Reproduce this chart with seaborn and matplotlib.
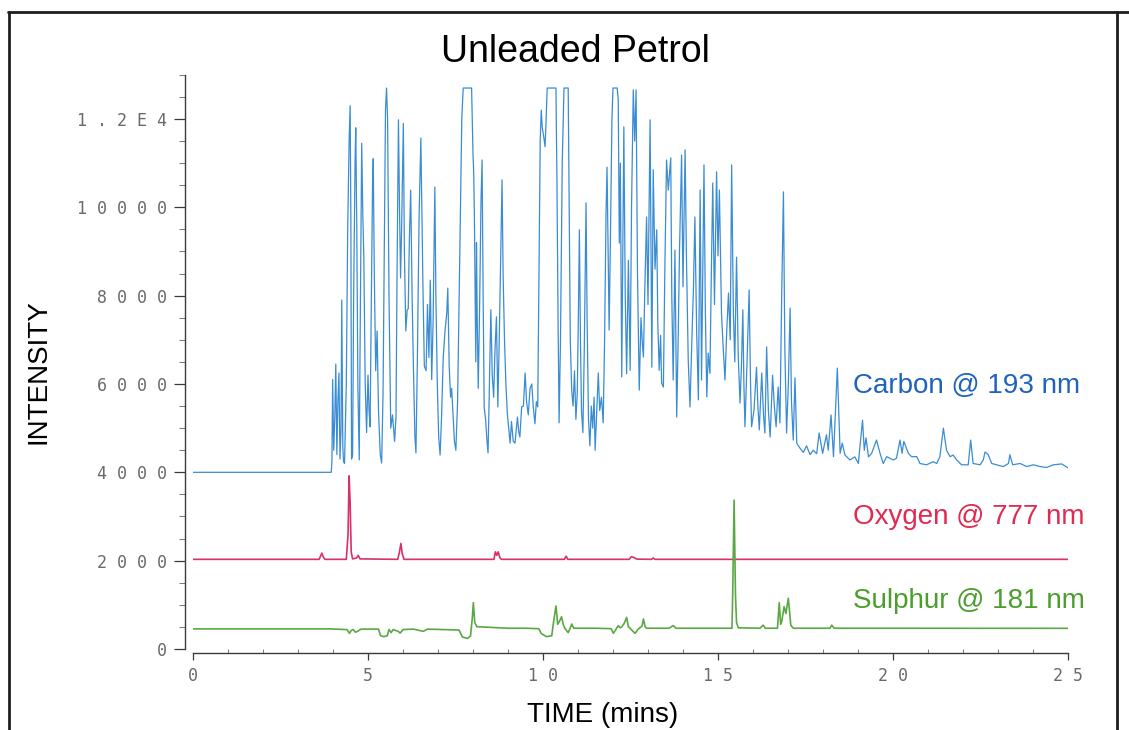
import matplotlib
matplotlib.use("Agg")
import matplotlib.pyplot as plt
import pandas as pd
import seaborn as sns
from matplotlib.lines import Line2D
from matplotlib.ticker import MultipleLocator, FuncFormatter

sns.set_theme(style="white")
plt.rcParams["font.family"] = ["Liberation Sans", "DejaVu Sans"]

# ---- Carbon channel (193 nm): retention time in minutes, emission intensity ----
carbon_time = [
    0.00, 3.95, 3.97, 3.99, 4.02, 4.05, 4.08, 4.11, 4.14, 4.17,
    4.20, 4.23, 4.25, 4.28, 4.30, 4.33, 4.38, 4.42, 4.46, 4.49,
    4.51, 4.53, 4.56, 4.59, 4.63, 4.65, 4.68, 4.71, 4.75, 4.78,
    4.82, 4.85, 4.88, 4.92, 4.96, 5.00, 5.03, 5.06, 5.09, 5.13,
    5.15, 5.18, 5.22, 5.26, 5.30, 5.35, 5.39, 5.43, 5.47, 5.50,
    5.53, 5.56, 5.60, 5.65, 5.70, 5.76, 5.80, 5.83, 5.87, 5.90,
    5.93, 5.96, 6.01, 6.04, 6.08, 6.12, 6.15, 6.18, 6.22, 6.26,
    6.30, 6.34, 6.37, 6.41, 6.46, 6.51, 6.54, 6.57, 6.61, 6.66,
    6.70, 6.74, 6.78, 6.82, 6.86, 6.91, 6.94, 6.98, 7.02, 7.06,
    7.10, 7.15, 7.20, 7.25, 7.28, 7.32, 7.36, 7.39, 7.43, 7.47,
    7.51, 7.56, 7.62, 7.68, 7.72, 7.96, 8.00, 8.02, 8.04, 8.06,
    8.08, 8.10, 8.12, 8.15, 8.19, 8.23, 8.26, 8.29, 8.32, 8.36,
    8.40, 8.43, 8.46, 8.51, 8.55, 8.59, 8.63, 8.67, 8.71, 8.75,
    8.80, 8.83, 8.86, 8.90, 8.94, 8.98, 9.02, 9.06, 9.10, 9.15,
    9.20, 9.24, 9.27, 9.31, 9.34, 9.39, 9.44, 9.49, 9.53, 9.58,
    9.63, 9.68, 9.72, 9.77, 9.81, 9.85, 9.88, 9.92, 9.95, 9.98,
    10.02, 10.06, 10.09, 10.12, 10.37, 10.40, 10.43, 10.46, 10.50, 10.55,
    10.60, 10.72, 10.75, 10.78, 10.82, 10.86, 10.90, 10.94, 10.98, 11.01,
    11.04, 11.07, 11.10, 11.14, 11.18, 11.23, 11.26, 11.30, 11.34, 11.38,
    11.42, 11.46, 11.49, 11.53, 11.58, 11.62, 11.67, 11.72, 11.76, 11.80,
    11.83, 11.86, 11.89, 11.93, 11.97, 12.00, 12.12, 12.15, 12.18, 12.21,
    12.25, 12.28, 12.31, 12.35, 12.39, 12.44, 12.49, 12.53, 12.58, 12.62,
    12.66, 12.70, 12.75, 12.80, 12.84, 12.87, 12.91, 12.96, 13.00, 13.06,
    13.11, 13.15, 13.20, 13.25, 13.28, 13.32, 13.36, 13.39, 13.44, 13.48,
    13.53, 13.58, 13.65, 13.68, 13.72, 13.77, 13.82, 13.86, 13.90, 13.96,
    14.00, 14.06, 14.10, 14.15, 14.20, 14.25, 14.30, 14.34, 14.39, 14.44,
    14.49, 14.53, 14.60, 14.64, 14.68, 14.72, 14.77, 14.81, 14.85, 14.90,
    14.96, 15.00, 15.04, 15.10, 15.15, 15.20, 15.25, 15.30, 15.35, 15.39,
    15.44, 15.48, 15.53, 15.58, 15.63, 15.67, 15.71, 15.74, 15.77, 15.83,
    15.89, 15.93, 15.96, 16.03, 16.10, 16.14, 16.18, 16.25, 16.30, 16.34,
    16.39, 16.44, 16.49, 16.56, 16.61, 16.66, 16.72, 16.77, 16.82, 16.87,
    16.91, 16.96, 17.01, 17.06, 17.10, 17.15, 17.20, 17.25, 17.34, 17.44,
    17.53, 17.63, 17.72, 17.82, 17.89, 17.99, 18.10, 18.15, 18.23, 18.30,
    18.41, 18.49, 18.55, 18.63, 18.77, 18.91, 19.01, 19.13, 19.18, 19.23,
    19.30, 19.39, 19.53, 19.63, 19.72, 19.82, 20.01, 20.10, 20.20, 20.26,
    20.31, 20.44, 20.53, 20.68, 20.77, 20.96, 21.15, 21.25, 21.34, 21.44,
    21.49, 21.53, 21.63, 21.72, 21.82, 21.96, 22.15, 22.22, 22.29, 22.49,
    22.58, 22.63, 22.72, 22.82, 22.96, 23.15, 23.30, 23.34, 23.42, 23.63,
    23.82, 24.01, 24.20, 24.39, 24.58, 24.82, 25.00,
]
carbon_intensity = [
    4000, 4000, 4250, 6100, 4500, 5200, 6450, 4400, 5600, 6250,
    4300, 5000, 7900, 4600, 4250, 4200, 6000, 9500, 11500, 12300,
    9800, 4300, 4400, 8000, 11000, 11800, 9500, 6000, 4280, 7500,
    11450, 9900, 8900, 6000, 4900, 6200, 5400, 5030, 7500, 10500,
    11100, 8500, 6300, 7200, 5400, 4400, 4210, 5800, 9500, 12200,
    12700, 12000, 8000, 5000, 5300, 4700, 5250, 8500, 11980, 10000,
    8400, 9500, 11900, 9000, 7200, 7680, 7700, 9200, 10390, 8000,
    6300, 4800, 4440, 6500, 9800, 11570, 9800, 8200, 6400, 6300,
    7800, 6600, 8350, 6100, 7400, 10460, 8000, 6000, 4800, 4390,
    5200, 6600, 7200, 7600, 8170, 6400, 5700, 5900, 5300, 4700,
    4500, 5600, 8800, 12000, 12700, 12700, 11200, 10800, 9800, 8200,
    6500, 9200, 7500, 5900, 7800, 10200, 11070, 8000, 5480, 5200,
    4700, 4440, 5600, 7680, 6200, 5700, 6800, 7520, 5480, 7000,
    9200, 10620, 8500, 7000, 6000, 5340, 5000, 4660, 5150, 4700,
    4660, 5000, 5250, 4900, 4800, 5480, 5500, 6250, 5600, 5300,
    5900, 6000, 5500, 5100, 5600, 5480, 8000, 11500, 12200, 11800,
    11600, 11370, 12000, 12700, 12700, 10500, 7500, 5120, 7000, 11000,
    12700, 12700, 9800, 7000, 5860, 5500, 6300, 5200, 5800, 7500,
    9490, 7000, 5400, 4900, 6800, 10100, 7500, 5200, 4600, 5500,
    5000, 5700, 4500, 5300, 6250, 5400, 5700, 5120, 7000, 9800,
    10910, 9000, 7220, 9500, 12000, 12700, 12700, 12430, 9190, 11000,
    6160, 9000, 11820, 8000, 6230, 8800, 6310, 10000, 12660, 11500,
    12660, 8500, 5860, 7500, 6900, 6610, 8200, 9780, 7800, 11980,
    6380, 10850, 8600, 9490, 7400, 6310, 7100, 6020, 5930, 8500,
    11070, 10390, 11120, 8000, 6090, 9030, 5250, 6900, 9000, 11180,
    8200, 11300, 8800, 6540, 5480, 6900, 8200, 9780, 7200, 5640,
    10390, 6090, 10960, 7600, 5710, 6700, 6240, 8500, 10550, 7800,
    10800, 8900, 10390, 7600, 6800, 6090, 7200, 8060, 7000, 10960,
    7600, 6500, 8870, 6600, 5570, 6400, 7680, 6000, 5030, 6500,
    8130, 6000, 5030, 5410, 6380, 5500, 4960, 6250, 5300, 4890,
    6840, 5400, 4800, 6200, 5500, 5030, 5930, 5120, 8000, 10350,
    6800, 4890, 6000, 7720, 5600, 4730, 6140, 4660, 4550, 4450,
    4600, 4400, 4500, 4420, 4890, 4430, 4850, 4500, 5300, 4350,
    6360, 4430, 4660, 4390, 4280, 4350, 4200, 5180, 4500, 4780,
    4350, 4430, 4730, 4430, 4200, 4355, 4280, 4320, 4730, 4430,
    4700, 4430, 4355, 4355, 4200, 4170, 4240, 4200, 4355, 5000,
    4730, 4500, 4355, 4390, 4280, 4170, 4170, 4730, 4200, 4170,
    4280, 4460, 4400, 4200, 4170, 4130, 4200, 4400, 4170, 4200,
    4130, 4170, 4130, 4110, 4170, 4190, 4100,
]

# ---- Oxygen channel (777 nm) ----
oxygen_time = [
    0.00, 3.60, 3.65, 3.68, 3.72, 3.77, 4.38, 4.43, 4.46, 4.49,
    4.52, 4.56, 4.67, 4.72, 4.77, 5.85, 5.90, 5.94, 5.98, 6.03,
    8.60, 8.64, 8.68, 8.72, 8.77, 8.82, 10.61, 10.66, 10.71, 12.46,
    12.53, 12.60, 12.68, 13.10, 13.15, 13.20, 25.00,
]
oxygen_intensity = [
    2030, 2030, 2110, 2170, 2090, 2030, 2030, 2600, 3920, 3300,
    2200, 2040, 2060, 2120, 2040, 2030, 2200, 2390, 2150, 2030,
    2030, 2200, 2120, 2200, 2060, 2030, 2030, 2100, 2030, 2030,
    2090, 2070, 2035, 2030, 2060, 2030, 2030,
]

# ---- Sulphur channel (181 nm) ----
sulphur_time = [
    0.00, 3.90, 4.40, 4.47, 4.52, 4.58, 4.64, 4.70, 4.80, 5.30,
    5.36, 5.45, 5.55, 5.60, 5.66, 5.72, 5.86, 5.92, 6.00, 6.30,
    6.58, 6.70, 7.60, 7.70, 7.85, 7.93, 7.98, 8.01, 8.05, 8.11,
    9.00, 9.50, 9.88, 9.95, 10.10, 10.25, 10.30, 10.37, 10.42, 10.48,
    10.53, 10.58, 10.63, 10.72, 10.78, 10.82, 10.88, 11.50, 11.95, 12.01,
    12.08, 12.15, 12.20, 12.25, 12.32, 12.39, 12.44, 12.49, 12.57, 12.63,
    12.72, 12.83, 12.87, 12.92, 12.96, 13.60, 13.72, 13.80, 15.40, 15.42,
    15.46, 15.50, 15.53, 15.58, 16.20, 16.29, 16.35, 16.70, 16.75, 16.79,
    16.82, 16.89, 16.94, 17.01, 17.08, 17.15, 18.20, 18.25, 18.32, 25.00,
]
sulphur_intensity = [
    455, 455, 440, 355, 420, 440, 380, 400, 450, 450,
    300, 280, 300, 440, 370, 440, 400, 360, 440, 450,
    400, 450, 430, 270, 240, 300, 700, 1050, 600, 505,
    470, 470, 460, 350, 280, 300, 600, 975, 560, 640,
    730, 550, 460, 370, 480, 565, 470, 470, 460, 355,
    440, 530, 480, 500, 580, 715, 500, 470, 400, 355,
    450, 520, 680, 500, 470, 470, 530, 470, 470, 1220,
    3370, 1220, 600, 480, 470, 540, 470, 470, 1050, 560,
    615, 960, 805, 1150, 540, 470, 470, 540, 470, 468,
]

# ---- Axis ticks ----
x_major_ticks = [0, 5, 10, 15, 20, 25]
y_major_ticks = [0, 2000, 4000, 6000, 8000, 10000, 12000]
y_tick_text = {12000: "1.2E4"}

channel_labels = ["Carbon @ 193 nm", "Oxygen @ 777 nm", "Sulphur @ 181 nm"]
label_colors = ["#1f63bd", "#e2294f", "#4c9e2c"]
line_colors = ["#3a8cd3", "#d9306a", "#5aa844"]

frames = [
    pd.DataFrame({"time": carbon_time, "intensity": carbon_intensity}),
    pd.DataFrame({"time": oxygen_time, "intensity": oxygen_intensity}),
    pd.DataFrame({"time": sulphur_time, "intensity": sulphur_intensity}),
]
line_widths = [0.9, 1.2, 1.2]

fig = plt.figure(figsize=(11.29, 7.30), dpi=100)
fig.patch.set_facecolor("white")
ax = fig.add_axes([0.17095, 0.11096, 0.775, 0.7866])

for df, col, lw in zip(frames, line_colors, line_widths):
    sns.lineplot(data=df, x="time", y="intensity", ax=ax, color=col,
                 linewidth=lw, estimator=None, sort=False, legend=False)

ax.set_xlim(0, 25)
ax.set_ylim(0, 13000)

# plotter-style axes: detached left/bottom spines only
for side in ("top", "right"):
    ax.spines[side].set_visible(False)
ax.spines["left"].set_position(("outward", 6))
ax.spines["bottom"].set_position(("outward", 3))
for side in ("left", "bottom"):
    ax.spines[side].set_color("#3a3a3a")
    ax.spines[side].set_linewidth(1.0)

ax.xaxis.set_major_locator(plt.FixedLocator(x_major_ticks))
ax.xaxis.set_minor_locator(MultipleLocator(1))
ax.yaxis.set_major_locator(plt.FixedLocator(y_major_ticks))
ax.yaxis.set_minor_locator(MultipleLocator(500))


def spaced(value, pos=None):
    text = y_tick_text.get(int(round(value)), str(int(round(value))))
    return " ".join(text)


ax.xaxis.set_major_formatter(FuncFormatter(spaced))
ax.yaxis.set_major_formatter(FuncFormatter(spaced))

ax.tick_params(axis="x", which="major", direction="out", length=5, width=0.9,
               color="#3a3a3a", pad=5, bottom=True)
ax.tick_params(axis="x", which="minor", direction="in", length=3, width=0.7,
               color="#777777", bottom=True)
ax.tick_params(axis="y", which="major", direction="out", length=8, width=0.9,
               color="#3a3a3a", pad=5, left=True)
ax.tick_params(axis="y", which="minor", direction="out", length=4, width=0.7,
               color="#777777", left=True)
for lab in ax.get_xticklabels() + ax.get_yticklabels():
    lab.set_family("DejaVu Sans Mono")
    lab.set_fontsize(12)
    lab.set_color("#6a6a6a")

ax.set_xlabel("TIME (mins)", fontsize=20, color="black")
ax.xaxis.label.set_va("baseline")
ax.xaxis.set_label_coords(0.4686, -0.1272)

ax.set_ylabel("INTENSITY", fontsize=20, color="black")
ax.yaxis.label.set_va("center")
ax.yaxis.set_label_coords(-0.1771, 0.4826)

ax.set_title("Unleaded Petrol", fontsize=27, color="black", pad=0,
             x=0.4366, y=1.0226)

# channel annotations beside the baselines
label_positions = [(18.86, 5796), (18.86, 2830), (18.86, 928)]
for text, col, (tx, ty) in zip(channel_labels, label_colors, label_positions):
    ax.text(tx, ty, text, color=col, fontsize=20, ha="left", va="baseline")

# outer frame of the page
frame_kw = dict(transform=fig.transFigure, color="#1e1e1e", linewidth=2.0)
fig.add_artist(Line2D([8 / 1129, 1.0], [1 - 12 / 730, 1 - 12 / 730], **frame_kw))
fig.add_artist(Line2D([9 / 1129, 9 / 1129], [0.0, 1 - 12 / 730], **frame_kw))
fig.add_artist(Line2D([1117 / 1129, 1117 / 1129], [0.0, 1 - 12 / 730], **frame_kw))

fig.savefig("out.png", dpi=100, facecolor="white")
